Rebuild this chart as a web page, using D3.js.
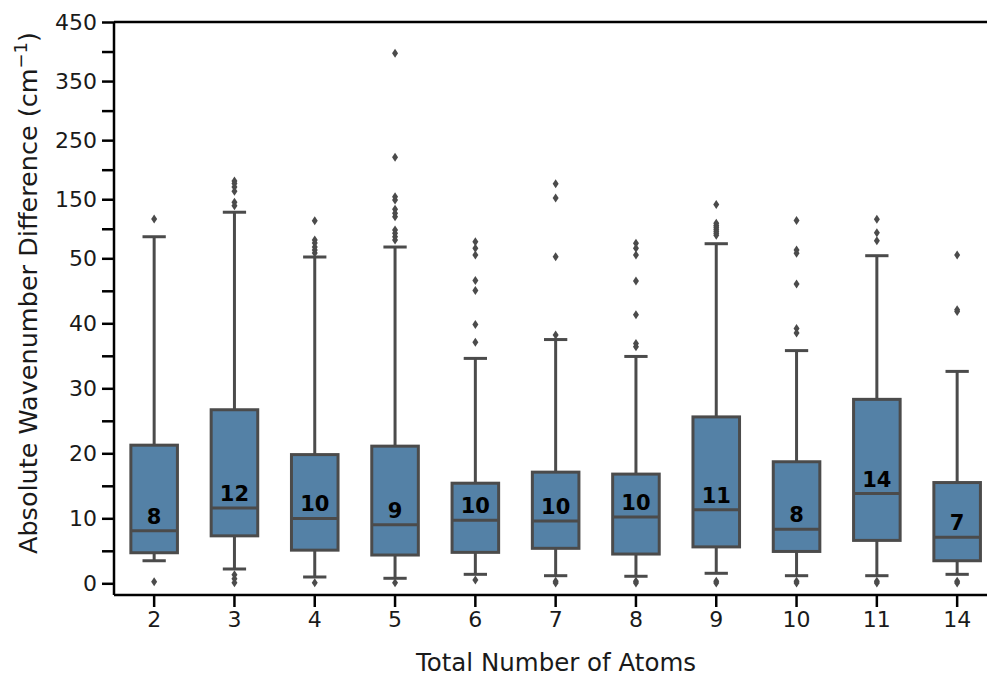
<!DOCTYPE html>
<html>
<head>
<meta charset="utf-8">
<script src="https://cdn.jsdelivr.net/npm/d3@7/dist/d3.min.js"></script>
<style>
  html, body { margin: 0; padding: 0; background: #fff; }
  svg { display: block; font-family: "DejaVu Sans", sans-serif; }
</style>
</head>
<body>
<svg id="chart" width="987" height="677"></svg>
<script>
// ---- data ----
const categories   = ["2", "3", "4", "5", "6", "7", "8", "9", "10", "11", "14"];
const q1Values     = [4.7, 7.3, 5.1, 4.35, 4.76, 5.38, 4.5, 5.6, 4.9, 6.6, 3.47];
const medianValues = [8.08, 11.6, 9.98, 9.0, 9.7, 9.57, 10.2, 11.3, 8.3, 13.8, 7.07];
const q3Values     = [21.25, 26.7, 19.8, 21.1, 15.4, 17.1, 16.8, 25.6, 18.7, 28.3, 15.5];
const whiskerLow   = [3.47, 2.2, 0.97, 0.77, 1.38, 1.17, 1.08, 1.54, 1.17, 1.17, 1.38];
const whiskerHigh  = [86.5, 128, 52.2, 69.1, 34.6, 37.5, 34.9, 74.7, 35.8, 54.4, 32.6];
const medianLabels = ["8", "12", "10", "9", "10", "10", "10", "11", "8", "14", "7"];
const outlierValues = [
  [116.5, 0.25],
  [181, 176.6, 170.8, 163.6, 144.8, 139, 1.3, 0.7, 0.1],
  [113.6, 81, 75.9, 69.1, 64, 59, 0.1],
  [397, 220.9, 154.2, 148.6, 132.9, 126.1, 120.4, 97.9, 92.3, 86.5, 81, 0.1],
  [78.1, 66.9, 55.6, 46.6, 45.05, 39.8, 37.1, 0.5],
  [176, 152, 52.7, 38.2, 0.3, 0.05],
  [75.4, 66.9, 55.6, 46.5, 41.3, 36.9, 36.4, 0.3, 0.05],
  [141, 109.2, 105.5, 102.5, 99, 95.7, 92.3, 88.9, 0.3, 0.05],
  [114, 64, 58.5, 46.05, 39.2, 38.5, 0.3, 0.05],
  [116, 93.3, 79.8, 0.3, 0.05],
  [55.6, 42.1, 41.8, 0.3, 0.05]
];
const yMajorTicks = [0, 10, 20, 30, 40, 50, 150, 250, 350, 450];
const yMinorTicks = [5, 15, 25, 35, 45, 100, 200, 300, 400];
const xLabel = "Total Number of Atoms";
const yLabelMain = "Absolute Wavenumber Difference (cm";
const yLabelSup = "\u22121";
const yLabelEnd = ")";

// ---- layout ----
const svg = d3.select("#chart");
const mLeft = 114, mRight = 997.3, mTop = 22, mBottom = 595;
const boxFill = "#5481a6";
const lineColor = "#4b4b4b";

const x = d3.scaleBand().domain(categories).range([mLeft, mRight]).padding(0);
const y = d3.scaleLinear().domain([-1.8, 50, 450]).range([mBottom, 258.3, mTop]);

const boxW = x.bandwidth() * 0.58;
const capW = boxW * 0.5;

const data = categories.map((c, i) => ({
  cat: c, q1: q1Values[i], med: medianValues[i], q3: q3Values[i],
  lo: whiskerLow[i], hi: whiskerHigh[i], label: medianLabels[i], out: outlierValues[i]
}));

const g = svg.append("g");
const cx = d => x(d.cat) + x.bandwidth() / 2;

// whiskers
g.selectAll(".wh").data(data).join("line")
  .attr("x1", cx).attr("x2", cx)
  .attr("y1", d => y(d.q3)).attr("y2", d => y(d.hi))
  .attr("stroke", lineColor).attr("stroke-width", 3);
g.selectAll(".wl").data(data).join("line")
  .attr("x1", cx).attr("x2", cx)
  .attr("y1", d => y(d.q1)).attr("y2", d => y(d.lo))
  .attr("stroke", lineColor).attr("stroke-width", 3);
// caps
["hi", "lo"].forEach(k => {
  g.selectAll(".cap-" + k).data(data).join("line")
    .attr("x1", d => cx(d) - capW / 2).attr("x2", d => cx(d) + capW / 2)
    .attr("y1", d => y(d[k])).attr("y2", d => y(d[k]))
    .attr("stroke", lineColor).attr("stroke-width", 3);
});
// boxes
g.selectAll(".box").data(data).join("rect")
  .attr("x", d => cx(d) - boxW / 2).attr("width", boxW)
  .attr("y", d => y(d.q3)).attr("height", d => y(d.q1) - y(d.q3))
  .attr("fill", boxFill).attr("stroke", lineColor).attr("stroke-width", 3);
// medians
g.selectAll(".med").data(data).join("line")
  .attr("x1", d => cx(d) - boxW / 2).attr("x2", d => cx(d) + boxW / 2)
  .attr("y1", d => y(d.med)).attr("y2", d => y(d.med))
  .attr("stroke", lineColor).attr("stroke-width", 3);
// outliers (thin diamonds)
const outs = data.flatMap(d => d.out.map(v => ({cat: d.cat, v})));
g.selectAll(".out").data(outs).join("path")
  .attr("d", d => {
    const px = x(d.cat) + x.bandwidth() / 2, py = y(d.v);
    return `M${px},${py - 4.5}L${px + 3},${py}L${px},${py + 4.5}L${px - 3},${py}Z`;
  })
  .attr("fill", lineColor);
// median labels
g.selectAll(".lab").data(data).join("text")
  .attr("x", cx).attr("y", d => y(d.med) - 7)
  .attr("text-anchor", "middle")
  .attr("font-size", 21).attr("font-weight", "bold").attr("fill", "#000")
  .text(d => d.label);

// ---- axes ----
const yAxis = d3.axisLeft(y).tickValues(yMajorTicks).tickSize(12).tickPadding(5).tickFormat(d3.format("d"));
const yAx = svg.append("g").attr("transform", `translate(${mLeft},0)`).call(yAxis);
const yMinor = svg.append("g").attr("transform", `translate(${mLeft},0)`)
  .call(d3.axisLeft(y).tickValues(yMinorTicks).tickSize(12).tickFormat(""));
yMinor.select(".domain").remove();
yAx.select(".domain").remove();

const xAxis = d3.axisBottom(x).tickSize(12).tickPadding(4);
const xAx = svg.append("g").attr("transform", `translate(0,${mBottom})`).call(xAxis);
xAx.select(".domain").remove();

[yAx, yMinor, xAx].forEach(a => {
  a.selectAll(".tick line").attr("stroke", "#000").attr("stroke-width", 2.5);
  a.selectAll(".tick text").attr("font-size", 22).attr("fill", "#1a1a1a")
    .attr("font-family", "DejaVu Sans, sans-serif");
});

// spines
svg.append("line").attr("x1", mLeft).attr("x2", mLeft).attr("y1", mTop).attr("y2", mBottom)
  .attr("stroke", "#000").attr("stroke-width", 2.5);
svg.append("line").attr("x1", mLeft).attr("x2", 987).attr("y1", mBottom).attr("y2", mBottom)
  .attr("stroke", "#000").attr("stroke-width", 2.5);
svg.append("line").attr("x1", mLeft).attr("x2", 987).attr("y1", mTop).attr("y2", mTop)
  .attr("stroke", "#000").attr("stroke-width", 2.5);

// axis titles
svg.append("text").attr("x", 556).attr("y", 671).attr("text-anchor", "middle")
  .attr("font-size", 24.5).attr("fill", "#1a1a1a").text(xLabel);

const yt = svg.append("text")
  .attr("transform", "translate(37,293) rotate(-90)")
  .attr("text-anchor", "middle").attr("font-size", 25.5).attr("fill", "#1a1a1a");
yt.append("tspan").text(yLabelMain);
yt.append("tspan").attr("dy", -10).attr("font-size", 18).text(yLabelSup);
yt.append("tspan").attr("dy", 10).text(yLabelEnd);
</script>
</body>
</html>
